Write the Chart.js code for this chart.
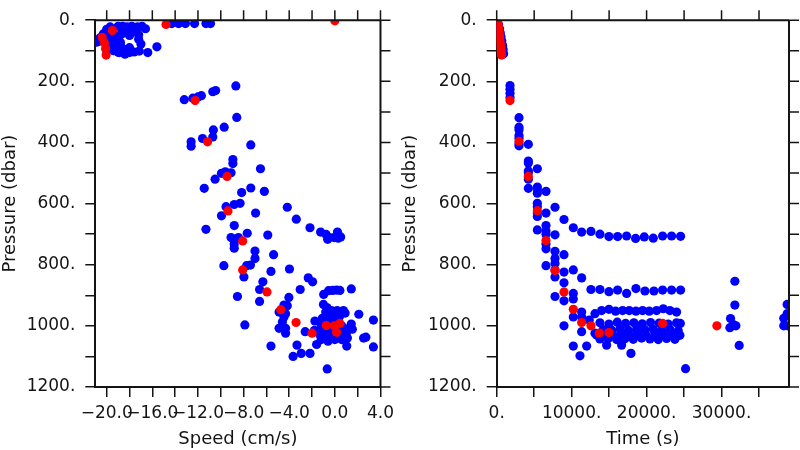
<!DOCTYPE html>
<html><head><meta charset="utf-8">
<script src="https://cdn.jsdelivr.net/npm/chart.js@4/dist/chart.umd.min.js"></script>
<style>
html,body{margin:0;padding:0;background:#fff;}
#wrap{position:relative;width:800px;height:450px;overflow:hidden;}
canvas{position:absolute;top:0;}
</style></head><body>
<div id="wrap"><canvas id="c1" width="400" height="450" style="left:0"></canvas><canvas id="c2" width="400" height="450" style="left:400px"></canvas></div>
<script>
// ---------- Left panel: Speed (cm/s) vs Pressure (dbar) ----------
const speedBlue = [
 -20.9,-20.6,-20.3,-20.0,-19.7,-19.0,-18.6,-18.2,-17.8,-17.3,-16.9,-16.6,-17.2,-15.6,-16.4,-17.15,-17.6,-18.0,-18.4,-18.9,
 -17.0,-17.2,-18.0,-20.7,-19.6,-19.2,-18.7,-18.0,-19.8,-19.4,-19.0,-18.8,-19.6,-19.2,-18.8,-18.6,-19.4,-19.0,-18.5,-18.3,-17.7,-19.9,-20.0,
 -14.3,-13.7,-13.1,-12.3,-11.3,-10.9,
 -8.68,-10.45,-10.7,-11.7,-12.0,-12.45,-13.2,-8.6,-9.7,-10.65,-10.7,-11.6,-12.6,-12.6,-7.37,-8.94,-8.94,-6.52,-9.94,-9.6,
 -9.1,-10.5,-11.45,-8.17,-7.37,-6.18,-4.17,-3.38,-8.82,-8.31,-9.54,-9.94,-6.95,-11.3,-8.82,-9.1,-8.45,-7.68,-8.82,-8.82,
 -5.88,-7.0,-5.37,-7.0,-9.73,-7.74,-7.4,-5.6,-3.98,-8.54,-7.89,-7.97,-2.18,
 -1.25,-0.77,-0.63,-0.48,-0.06,0.23,0.51,0.3,
 -2.33,-1.95,-6.31,-6.6,-6.6,-3.04,-0.98,-0.55,-0.19,0.15,0.44,1.44,-4.17,-4.03,-4.89,-4.46,-4.46,-4.6,-4.89,-4.32,
 -4.32,-4.32,-2.6,-1.75,-1.6,-3.32,-3.66,-2.95,-2.18,-5.6,-0.67,0.75,2.1,1.44,1.53,3.38,2.52,2.72,1.04,3.38,-1.8,
 -1.0,-0.7,-0.8,-0.3,0.2,0.9,-1.1,-0.6,0.0,0.4,-1.2,-0.9,-0.5,0.1,0.6,-1.3,-1.0,-0.6,-0.2,0.3,
 0.8,1.1,-0.8,0.5,0.9,-0.3,0.0,-1.2,0.6,-0.4,0.2,-0.9,0.7,-0.1,-0.6,1.0,0.4,-1.1
];
const presSpeedBlue = [
 72,58,45,30,22,20,20,22,20,22,20,28,48,87,106,101,104,106,111,106,
 78,62,90,69,40,50,45,50,60,72,65,72,90,85,80,100,100,105,95,40,38,82,100,
 11,11,11,11,11,11,
 215,230,234,247,251,255,260,318,350,359,382,387,398,412,408,456,469,486,501,496,
 499,520,550,564,549,560,612,651,603,599,610,640,631,684,672,711,711,697,732,746,
 703,755,767,780,803,803,801,822,814,904,997,840,679,
 693,701,717,711,711,693,709,713,
 843,856,856,881,920,881,897,885,884,883,884,879,934,907,955,932,971,987,1008,1008,
 1024,960,1019,984,1061,1063,1100,1090,1090,1066,1141,950,962,994,1011,981,1040,1037,1066,1069,1015,
 930,940,955,950,950,958,975,970,965,970,1000,1010,990,985,1000,1030,1040,1035,1040,1035,
 1030,1040,1020,1015,1010,1020,1045,1045,1045,1005,1025,985,1035,1030,1050,1025,1002,1020
];
const speedRed = [-14.8,-19.5,-20.4,-20.2,-20.1,-20.05,0.0,-12.25,-11.16,-9.45,-9.37,-8.08,-8.08,-5.95,-4.74,-3.4,-2.0,-0.75,-0.04,0.44,0.15];
const presSpeedRed = [14,34,56,74,93,114,2,263,398,511,624,722,817,889,947,989,1024,999,1000,992,1021];

// ---------- Right panel: Time (s) vs Pressure (dbar) ----------
const timeBlue = [
 250,380,480,580,680,780,860,920,
 1778,1778,1778,1778,
 2978,2978,2978,2978,2978,2978,2978,
 4222,4222,4222,4222,4222,4222,4222,
 5422,5422,5422,5422,5422,5422,5422,5422,5422,
 6578,6578,6578,6578,6578,6578,6578,6578,
 7778,7778,7778,7778,7778,7778,7778,7778,
 8978,8978,8978,8978,8978,8978,
 10222,10222,10222,10222,10222,10222,
 11333,11333,11333,11333,11333,11111,12000,12355,
 12578,13778,14978,16133,17333,18533,19689,20889,22133,23333,24533,
 12578,13778,14978,16133,17333,18578,19778,20978,22133,23333,24533,
 13111,14000,14978,15867,16800,17689,18578,19467,20356,21333,22222,23111,24000,
 13777,14977,16088,17199,18310,19421,20532,21687,22887,23998,24500,
 14222,15333,16444,17555,18666,19777,20888,21998,23109,24220,
 13333,14444,15555,16666,17777,18888,19999,21110,22220,23331,24443,
 13777,14888,16000,17110,18221,19332,20443,21554,22665,23776,
 13111,14667,16667,17911,25200,
 31200,31111,31778,31778,31644,31911,32356,
 38300,38300,38750,38750,38850
];
const presTimeBlue = [
 15,28,42,55,68,82,96,110,
 214,226,239,253,
 319,350,358,377,386,404,411,
 406,461,467,493,499,520,550,
 486,546,555,566,599,610,631,642,686,
 560,631,672,690,700,732,748,803,
 612,702,756,780,796,817,840,904,
 652,767,824,859,918,1000,
 679,817,894,912,971,1066,
 693,843,955,971,1019,1098,1066,981,
 691,700,708,708,706,714,709,713,706,706,707,
 881,881,888,883,894,878,886,886,883,883,883,
 960,950,946,952,950,950,952,950,952,950,944,950,955,
 990,994,988,992,990,993,989,991,994,990,992,
 1012,1014,1010,1015,1012,1013,1011,1014,1012,1016,
 1030,1028,1031,1027,1030,1029,1032,1028,1030,1027,1031,
 1043,1041,1045,1042,1044,1040,1043,1045,1041,1044,
 1024,1063,1063,1090,1140,
 976,1006,854,932,997,1000,1064,
 975,1000,930,960,1000
];
const timeRed = [60,140,190,240,270,310,350,390,420,450,490,530,570,600,640,
 1778,2978,4222,5422,6578,7778,8978,10222,11333,12578,13689,14978,22133,29378];
const presTimeRed = [2,9,17,25,33,41,49,57,65,73,81,89,97,105,114,
 263,396,511,623,721,819,889,946,989,1000,1024,1022,992,1000];

// ---------- tick / label definitions ----------
const pressureTicks = [0,100,200,300,400,500,600,700,800,900,1000,1100,1200];
const pressureLabels = [0,200,400,600,800,1000,1200];
const speedTicks = [-20,-18,-16,-14,-12,-10,-8,-6,-4,-2,0,2,4];
const speedLabels = [-20,-16,-12,-8,-4,0,4];
const timeTicks = [0,5000,10000,15000,20000,25000,30000,35000];
const timeLabels = [0,10000,20000,30000];

const INK = '#141414';
const FONT = 'DejaVu Sans';

function pts(xs, ys){ return xs.map((x,i)=>({x:x, y:ys[i]})); }
function setTicks(list){ return (s)=>{ s.ticks = list.map(v=>({value:v})); }; }

const framePlugin = {
  id:'frame',
  afterDatasetsDraw(chart){
    const ctx = chart.ctx, a = chart.chartArea;
    const xs = chart.scales.x, ys = chart.scales.y;
    ctx.save();
    ctx.strokeStyle = INK;
    ctx.lineWidth = 2;
    ctx.beginPath();
    ctx.moveTo(a.left, a.top); ctx.lineTo(a.right, a.top);
    ctx.moveTo(a.right, a.top); ctx.lineTo(a.right, a.bottom);
    ctx.stroke();
    ctx.lineWidth = 1.5;
    ctx.beginPath();
    xs.ticks.forEach(t=>{ const p = xs.getPixelForValue(t.value); ctx.moveTo(p, a.top); ctx.lineTo(p, a.top-10); });
    ys.ticks.forEach(t=>{ const p = ys.getPixelForValue(t.value); ctx.moveTo(a.right, p); ctx.lineTo(a.right+10, p); });
    ctx.stroke();
    ctx.restore();
  }
};

function makeChart(id, cfg){
  return new Chart(document.getElementById(id), {
    type:'scatter',
    data:{datasets:[
      {data:pts(cfg.redX, cfg.redY), backgroundColor:'#ff0000', pointRadius:4.6, pointBorderWidth:0, order:0, clip:0},
      {data:pts(cfg.blueX, cfg.blueY), backgroundColor:'#0000ff', pointRadius:4.6, pointBorderWidth:0, order:1, clip:0}
    ]},
    options:{
      responsive:false, animation:false, events:[],
      layout:{padding:{top:10, right:cfg.padRight, left:0, bottom:0}},
      plugins:{legend:{display:false}, tooltip:{enabled:false}},
      scales:{
        x:{type:'linear', position:'bottom', min:cfg.xmin, max:cfg.xmax,
          afterBuildTicks:setTicks(cfg.xticks),
          ticks:{autoSkip:false, maxRotation:0, minRotation:0, padding:6,
            color:INK, font:{family:FONT, size:17}, callback:cfg.xfmt},
          grid:{drawOnChartArea:false, drawTicks:true, tickLength:10, color:INK, lineWidth:1.5},
          border:{display:true, color:INK, width:2},
          title:{display:true, text:cfg.xtitle, color:INK, font:{family:FONT, size:18}, padding:0},
          afterFit(s){ s.height = 63; }
        },
        y:{type:'linear', position:'left', reverse:true, min:0, max:1200,
          afterBuildTicks:setTicks(pressureTicks),
          ticks:{autoSkip:false, padding:10, color:INK, font:{family:FONT, size:17},
            callback:(v)=> pressureLabels.includes(v) ? v + '.' : ''},
          grid:{drawOnChartArea:false, drawTicks:true, tickLength:10, color:INK, lineWidth:1.5},
          border:{display:true, color:INK, width:2},
          title:{display:true, text:'Pressure (dbar)', color:INK, font:{family:FONT, size:18}, padding:0},
          afterFit(s){ s.width = cfg.yWidth; }
        }
      }
    },
    plugins:[framePlugin]
  });
}

makeChart('c1', {
  redX:speedRed, redY:presSpeedRed, blueX:speedBlue, blueY:presSpeedBlue,
  xmin:-21, xmax:4, xticks:speedTicks, padRight:12.7, yWidth:95.3, xtitle:'Speed (cm/s)',
  xfmt:(v)=> speedLabels.includes(v) ? (v<0?'\u2212':'') + Math.abs(v).toFixed(1) : ''
});
makeChart('c2', {
  redX:timeRed, redY:presTimeRed, blueX:timeBlue, blueY:presTimeBlue,
  xmin:0, xmax:39000, xticks:timeTicks, padRight:11, yWidth:96.7, xtitle:'Time (s)',
  xfmt:(v)=> timeLabels.includes(v) ? v + '.' : ''
});
</script>
</body></html>
